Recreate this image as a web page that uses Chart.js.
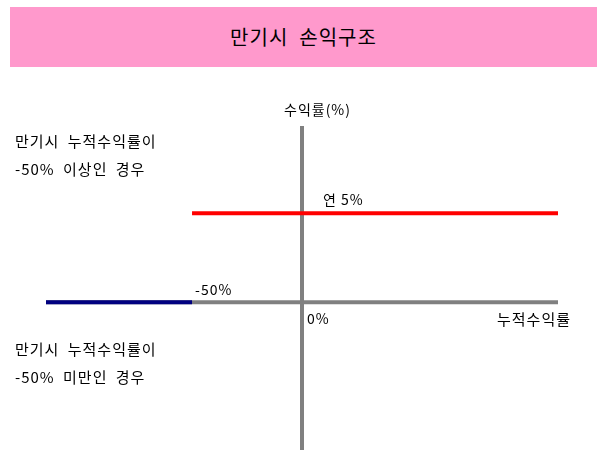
<!DOCTYPE html>
<html>
<head>
<meta charset="utf-8">
<script src="https://cdn.jsdelivr.net/npm/chart.js@4"></script>
<style>
    body { margin: 0; background: #fff; font-family: "Noto Sans CJK KR", sans-serif; }
    #wrap { position: relative; width: 597px; height: 451px; overflow: hidden; }
    #title {
        position: absolute; left: 10px; top: 7px; width: 587px; height: 60px;
        background: #ff99cc; color: #000; font-size: 20px; line-height: 60px;
        text-align: center; letter-spacing: 1px; white-space: pre;
    }
    .note {
        position: absolute; left: 15px; font-size: 15px; letter-spacing: 1px;
        word-spacing: 4px; color: #000; white-space: pre; line-height: 20px;
    }
    canvas { position: absolute; left: 0; top: 0; }
</style>
</head>
<body>
<div id="wrap">
    <canvas id="payoffChart" width="597" height="451"></canvas>
    <div id="title">만기시  손익구조</div>
    <div class="note" style="top:131px">만기시 누적수익률이</div>
    <div class="note" style="top:159px">-50% 이상인 경우</div>
    <div class="note" style="top:339px">만기시 누적수익률이</div>
    <div class="note" style="top:367px">-50% 미만인 경우</div>
</div>
<script>
// axis ranges (cumulative return %, payoff %)
const xRange = [-116.4, 116.4];
const yRange = [-8.3, 9.9];

// payoff branches
const lowBranchX = [-116.4, -50];
const lowBranchY = [0, 0];
const highBranchX = [-50, 116.4];
const highBranchY = [5, 5];

// annotation texts anchored on data values
const labelTexts = ['수익률(%)', '연 5%', '-50%', '0%', '누적수익률'];
const labelX = [0, 0, -50, 0, 116.4];
const labelY = [9.9, 5, 0, 0, 0];

function toPoints(xs, ys) {
    return xs.map((x, i) => ({ x: x, y: ys[i] }));
}

// pixel offsets / alignment for each annotation
const labelStyle = [
    { dx: -18, dy: -16, align: 'left', size: 14 },
    { dx: 21, dy: -14, align: 'left', size: 14 },
    { dx: 3, dy: -13, align: 'left', size: 14 },
    { dx: 5, dy: 16, align: 'left', size: 14 },
    { dx: 13, dy: 17, align: 'right', size: 15 }
];

const labelPlugin = {
    id: 'payoffLabels',
    afterDatasetsDraw(chart) {
        const ctx = chart.ctx;
        const xs = chart.scales.x;
        const ys = chart.scales.y;
        ctx.save();
        ctx.fillStyle = '#000';
        ctx.textBaseline = 'middle';
        if ('letterSpacing' in ctx) ctx.letterSpacing = '1px';
        labelTexts.forEach((t, i) => {
            const st = labelStyle[i];
            ctx.font = st.size + 'px "Noto Sans CJK KR", sans-serif';
            ctx.textAlign = st.align;
            ctx.fillText(t, xs.getPixelForValue(labelX[i]) + st.dx, ys.getPixelForValue(labelY[i]) + st.dy);
        });
        ctx.restore();
    }
};

const ctx = document.getElementById('payoffChart');
new Chart(ctx, {
    type: 'line',
    data: {
        datasets: [
            {
                data: toPoints(highBranchX, highBranchY),
                borderColor: '#ff0000',
                borderWidth: 4,
                order: 1
            },
            {
                data: toPoints(lowBranchX, lowBranchY),
                borderColor: '#000080',
                borderWidth: 4,
                order: 2
            },
            {
                // horizontal axis
                data: toPoints(xRange, [0, 0]),
                borderColor: '#808080',
                borderWidth: 4,
                order: 3
            },
            {
                // vertical axis
                data: toPoints([0, 0], yRange),
                borderColor: '#808080',
                borderWidth: 4,
                order: 4
            }
        ]
    },
    options: {
        responsive: false,
        animation: false,
        devicePixelRatio: 1,
        layout: { padding: { left: 46, right: 39, top: 126, bottom: 1 } },
        elements: { point: { radius: 0 }, line: { tension: 0, borderCapStyle: 'butt' } },
        scales: {
            x: { type: 'linear', display: false, min: xRange[0], max: xRange[1] },
            y: { type: 'linear', display: false, min: yRange[0], max: yRange[1] }
        },
        plugins: {
            legend: { display: false },
            tooltip: { enabled: false }
        }
    },
    plugins: [labelPlugin]
});
</script>
</body>
</html>
